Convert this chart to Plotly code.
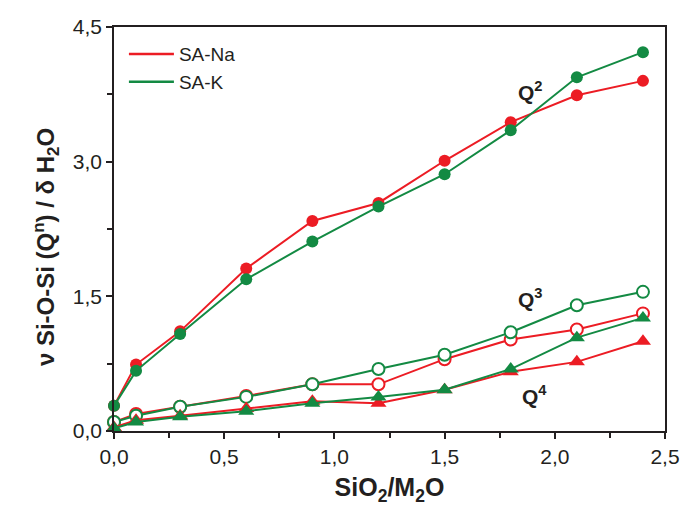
import plotly.graph_objects as go

x = [0, 0.1, 0.3, 0.6, 0.9, 1.2, 1.5, 1.8, 2.1, 2.4]
q2_na = [0.28, 0.74, 1.11, 1.81, 2.34, 2.54, 3.01, 3.44, 3.74, 3.90]
q2_k = [0.28, 0.67, 1.08, 1.69, 2.11, 2.50, 2.86, 3.35, 3.94, 4.22]
q3_na = [0.10, 0.19, 0.27, 0.39, 0.52, 0.52, 0.80, 1.02, 1.13, 1.31]
q3_k = [0.10, 0.17, 0.27, 0.38, 0.52, 0.69, 0.85, 1.10, 1.40, 1.55]
q4_na = [0.04, 0.12, 0.17, 0.25, 0.33, 0.31, 0.46, 0.66, 0.77, 1.00]
q4_k = [0.03, 0.10, 0.16, 0.22, 0.31, 0.38, 0.46, 0.69, 1.04, 1.26]

RED = "#ec1c24"
GREEN = "#138a43"
INK = "#231f20"

fig = go.Figure()

def add(y, color, symbol, filled):
    fig.add_trace(go.Scatter(
        x=x, y=y, mode="lines+markers", showlegend=False,
        line=dict(color=color, width=2),
        marker=dict(symbol=symbol, size=12 if symbol == "circle" else 14,
                    color=color if filled else "white",
                    line=dict(color=color, width=0 if filled else 2)),
        cliponaxis=False,
    ))

add(q2_na, RED, "circle", True)
add(q2_k, GREEN, "circle", True)
add(q3_na, RED, "circle", False)
add(q3_k, GREEN, "circle", False)
add(q4_na, RED, "triangle-up", True)
add(q4_k, GREEN, "triangle-up", True)

fig.add_trace(go.Scatter(x=[None], y=[None], mode="lines", name="SA-Na",
                         line=dict(color=RED, width=2.5)))
fig.add_trace(go.Scatter(x=[None], y=[None], mode="lines", name="SA-K",
                         line=dict(color=GREEN, width=2.5)))

for txt, xx, yy in [("Q<sup>2</sup>", 1.89, 3.79), ("Q<sup>3</sup>", 1.89, 1.48), ("Q<sup>4</sup>", 1.91, 0.40)]:
    fig.add_annotation(x=xx, y=yy, text="<b>" + txt + "</b>", showarrow=False,
                       font=dict(size=21, color=INK))

# y-axis title placed as an annotation for exact positioning
fig.add_annotation(xref="paper", yref="paper", x=-0.158, y=0.455,
                   text="<b>ν Si-O-Si (Q<sup>n</sup>) / δ H<sub>2</sub>O</b>",
                   textangle=-90, showarrow=False, font=dict(size=24, color=INK))

axis_common = dict(showline=True, linecolor=INK, linewidth=1.5, mirror=True,
                   ticks="outside", tickcolor=INK, ticklen=6, tickwidth=1.5,
                   showgrid=False, zeroline=False, automargin=False,
                   tickfont=dict(size=21, color=INK))

fig.update_xaxes(range=[0, 2.5], dtick=0.5, tickformat=".1f",
                 minor=dict(dtick=0.25, ticks="outside", ticklen=5, tickcolor=INK, tickwidth=1.5),
                 title=dict(text="<b>SiO<sub>2</sub>/M<sub>2</sub>O</b>", font=dict(size=25, color=INK), standoff=12),
                 **axis_common)
fig.update_yaxes(range=[0, 4.5], dtick=1.5, tickformat=".1f",
                 minor=dict(dtick=0.75, ticks="outside", ticklen=5, tickcolor=INK, tickwidth=1.5),
                 **axis_common)

fig.update_layout(
    width=682, height=506,
    margin=dict(l=114, r=17, t=27, b=75),
    paper_bgcolor="white", plot_bgcolor="white",
    separators=",.",
    font=dict(family="Liberation Sans, Arial, sans-serif", color=INK),
    legend=dict(x=0.018, y=0.98, xanchor="left", yanchor="top", bgcolor="rgba(0,0,0,0)",
                font=dict(size=19), itemwidth=45, tracegroupgap=0),
)

fig.write_html("out.html", config={"displayModeBar": False},
               post_script="document.body.style.margin='0px';")
